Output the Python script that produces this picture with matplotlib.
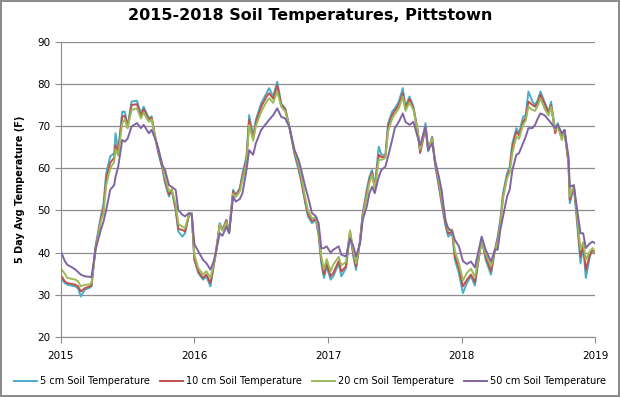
import matplotlib
matplotlib.use('Agg')
import matplotlib.pyplot as plt

# decimal year of each reading
years = [2015.00, 2015.03, 2015.05, 2015.08, 2015.11, 2015.13, 2015.15, 2015.18, 2015.21, 2015.23,
         2015.26, 2015.30, 2015.32, 2015.34, 2015.37, 2015.40, 2015.41, 2015.43, 2015.46, 2015.48,
         2015.50, 2015.53, 2015.57, 2015.60, 2015.62, 2015.66, 2015.68, 2015.71, 2015.73, 2015.76,
         2015.78, 2015.81, 2015.83, 2015.86, 2015.88, 2015.91, 2015.93, 2015.96, 2015.98, 2016.00,
         2016.03, 2016.065, 2016.09, 2016.12, 2016.14, 2016.16, 2016.19, 2016.21, 2016.24, 2016.26,
         2016.29, 2016.31, 2016.34, 2016.36, 2016.39, 2016.41, 2016.44, 2016.46, 2016.50, 2016.54,
         2016.56, 2016.59, 2016.62, 2016.65, 2016.68, 2016.71, 2016.75, 2016.78, 2016.80, 2016.83,
         2016.85, 2016.88, 2016.91, 2016.93, 2016.95, 2016.97, 2016.99, 2017.02, 2017.04, 2017.08,
         2017.10, 2017.135, 2017.165, 2017.19, 2017.21, 2017.24, 2017.26, 2017.29, 2017.31, 2017.33,
         2017.35, 2017.38, 2017.40, 2017.43, 2017.45, 2017.48, 2017.50, 2017.53, 2017.56, 2017.58,
         2017.61, 2017.64, 2017.67, 2017.69, 2017.73, 2017.75, 2017.78, 2017.80, 2017.83, 2017.85,
         2017.88, 2017.90, 2017.93, 2017.95, 2017.98, 2018.01, 2018.04, 2018.07, 2018.10, 2018.15,
         2018.18, 2018.22, 2018.25, 2018.27, 2018.29, 2018.31, 2018.34, 2018.36, 2018.38, 2018.41,
         2018.43, 2018.46, 2018.48, 2018.50, 2018.53, 2018.55, 2018.57, 2018.59, 2018.62, 2018.65,
         2018.67, 2018.70, 2018.72, 2018.75, 2018.77, 2018.80, 2018.81, 2018.84, 2018.86, 2018.89,
         2018.91, 2018.93, 2018.96, 2018.98, 2019.00]

t5 = [34.0, 32.8, 32.4, 32.2, 32.0, 31.5, 29.6, 31.2, 31.6, 32.0,
      41.5, 48.6, 51.7, 58.8, 62.8, 63.6, 68.3, 64.3, 73.4, 73.4,
      69.9, 75.8, 76.0, 73.0, 74.6, 71.8, 72.3, 66.7, 63.6, 60.0,
      56.5, 53.3, 54.9, 50.1, 45.0, 43.8, 44.6, 49.0, 49.4, 38.3,
      35.1, 33.6, 34.4, 32.0, 35.9, 39.9, 47.0, 45.4, 47.8, 44.6,
      54.9, 53.7, 55.3, 58.8, 62.8, 72.6, 67.5, 71.5, 75.4, 77.8,
      79.0, 77.0, 80.5, 75.4, 74.2, 69.9, 63.2, 59.6, 56.8, 51.7,
      48.6, 47.0, 47.8, 44.0, 37.5, 34.0, 36.7, 33.6, 34.4, 37.5,
      34.4, 36.3, 44.6, 39.1, 35.9, 43.0, 49.4, 54.9, 58.0, 59.6,
      55.6, 65.1, 63.2, 63.2, 70.7, 73.4, 74.2, 75.8, 79.0, 74.6,
      77.0, 74.6, 69.1, 64.0, 70.7, 64.0, 67.5, 61.2, 55.6, 51.7,
      46.2, 43.8, 44.6, 38.3, 35.1, 30.4, 32.8, 34.4, 32.2, 43.4,
      38.3, 34.8, 40.7, 43.8, 47.8, 54.1, 58.8, 60.4, 65.9, 69.5,
      68.3, 72.2, 72.6, 78.2, 75.8, 75.0, 76.2, 78.2, 75.8, 73.4,
      75.8, 69.1, 70.7, 67.5, 69.1, 61.2, 51.7, 55.6, 48.6, 37.5,
      41.5, 34.0, 39.1, 40.7, 39.9]

t10 = [34.7, 33.2, 32.8, 32.6, 32.4, 32.0, 30.8, 31.6, 31.9, 32.2,
       41.0, 48.0, 50.5, 57.5, 61.3, 62.5, 65.5, 63.8, 72.2, 72.5,
       69.6, 75.0, 75.2, 72.5, 74.0, 71.5, 72.0, 66.8, 64.0, 60.3,
       57.0, 53.8, 55.0, 50.5, 45.6, 45.4, 45.0, 49.0, 49.3, 38.5,
       35.5, 34.0, 34.8, 32.8, 36.0, 39.8, 46.6, 45.4, 47.6, 44.8,
       54.5, 53.5, 55.0, 58.0, 62.0, 71.5, 67.0, 70.8, 74.6, 77.0,
       77.8, 76.5, 79.7, 75.0, 74.0, 70.0, 63.6, 60.4, 57.2, 52.2,
       49.2, 47.5, 48.0, 44.6, 38.3, 34.8, 37.5, 34.4, 35.2, 38.0,
       35.5, 36.8, 45.0, 39.6, 36.7, 42.8, 49.0, 54.1, 57.2, 59.0,
       55.4, 63.2, 62.6, 62.8, 69.9, 72.6, 73.6, 75.0, 77.8, 74.2,
       76.4, 74.2, 69.0, 63.6, 69.5, 64.3, 67.2, 61.6, 56.2, 52.3,
       47.0, 44.5, 45.0, 39.1, 36.3, 32.0, 33.6, 34.8, 33.0, 43.0,
       39.1, 35.6, 40.7, 43.2, 47.0, 53.3, 58.0, 59.6, 65.1, 68.7,
       67.8, 71.0, 72.0, 75.8, 75.0, 74.6, 75.6, 77.4, 75.4, 73.0,
       75.0, 68.3, 70.3, 67.5, 69.0, 61.2, 52.5, 55.8, 49.7, 39.1,
       41.9, 35.9, 39.5, 40.7, 39.9]

t20 = [36.3, 35.0, 34.0, 33.8, 33.6, 33.2, 32.0, 32.4, 32.4, 32.8,
       40.5, 47.5, 49.3, 56.0, 60.0, 61.5, 64.5, 63.0, 70.7, 71.5,
       69.5, 73.8, 74.2, 71.8, 73.2, 71.0, 71.6, 67.0, 64.5, 60.8,
       57.8, 54.5, 55.0, 51.5, 46.8, 46.2, 45.8, 49.2, 49.3, 39.5,
       36.3, 34.8, 35.6, 34.0, 36.5, 39.6, 46.6, 45.2, 47.2, 44.8,
       54.0, 53.2, 54.5, 57.2, 61.2, 70.3, 66.5, 70.0, 73.4, 75.8,
       76.6, 75.5, 78.2, 74.6, 73.5, 70.0, 64.0, 61.0, 58.0, 53.0,
       50.0, 48.2, 48.3, 45.2, 39.1, 36.0, 38.5, 35.6, 37.2, 39.0,
       37.0, 37.8, 45.3, 40.3, 37.5, 42.5, 48.5, 53.3, 56.5, 58.5,
       55.2, 62.0, 62.0, 62.4, 68.8, 71.8, 72.8, 74.2, 77.0, 73.6,
       75.6, 73.8, 69.0, 64.5, 69.9, 64.6, 67.0, 62.0, 57.0, 53.0,
       47.8, 45.2, 45.5, 40.3, 37.5, 33.4, 35.2, 36.2, 34.2, 42.6,
       39.8, 36.8, 40.6, 42.5, 46.5, 52.8, 57.6, 59.0, 63.6, 67.5,
       67.0, 70.3, 71.3, 74.6, 73.8, 73.6, 74.8, 76.6, 74.2, 72.5,
       74.6, 69.1, 70.0, 66.7, 68.8, 61.6, 53.3, 56.0, 50.1, 40.7,
       42.5, 38.3, 40.3, 41.1, 40.1]

t50 = [40.4, 38.0, 37.1, 36.6, 36.0, 35.4, 34.8, 34.4, 34.3, 34.2,
       40.7, 45.4, 47.4, 50.1, 54.9, 56.0, 58.0, 60.4, 66.7, 66.3,
       67.0, 69.9, 70.7, 69.5, 70.3, 68.3, 69.1, 66.7, 64.7, 60.8,
       59.6, 56.0, 55.6, 54.9, 50.1, 49.0, 48.6, 49.4, 49.0, 42.0,
       40.3, 38.3, 37.5, 36.0, 37.5, 39.9, 44.6, 44.0, 46.2, 44.6,
       53.3, 52.1, 52.7, 54.1, 59.6, 64.3, 63.2, 65.9, 69.1, 70.7,
       71.5, 72.6, 74.2, 72.2, 71.8, 69.9, 64.3, 62.0, 59.6, 55.6,
       53.3, 49.4, 48.6, 47.0, 41.0, 41.1, 41.5, 40.0, 40.7, 41.5,
       39.5, 39.1, 43.4, 41.5, 39.1, 42.2, 47.8, 50.9, 54.1, 55.6,
       54.1, 58.0, 59.6, 60.4, 62.8, 66.7, 69.5, 71.0, 73.0, 71.0,
       70.3, 71.0, 67.5, 65.5, 69.9, 64.3, 65.9, 62.0, 58.0, 54.9,
       47.4, 45.8, 45.0, 43.0, 41.5, 38.0, 37.3, 37.9, 36.5, 43.8,
       40.7, 37.9, 40.7, 40.7, 45.4, 48.6, 53.3, 54.9, 59.6, 63.2,
       63.6, 65.9, 67.5, 69.5, 69.5, 70.3, 71.8, 73.0, 72.6, 71.5,
       70.7, 69.5, 70.3, 68.3, 69.1, 62.8, 55.6, 56.0, 51.3, 44.6,
       44.6, 41.1, 42.2, 42.6, 42.2]

labels = ['5 cm Soil Temperature', '10 cm Soil Temperature',
          '20 cm Soil Temperature', '50 cm Soil Temperature']
colors = ['#4BACC6', '#C0504D', '#9BBB59', '#8064A2']

fig = plt.figure(figsize=(6.2, 3.97), dpi=100)
fig.patch.set_edgecolor('#8c8c8c')
fig.patch.set_linewidth(1.5)
ax = fig.add_axes([0.098, 0.151, 0.862, 0.744])

for vals, lab, col in zip([t5, t10, t20, t50], labels, colors):
    ax.plot(years, vals, color=col, lw=1.4, label=lab)

ax.set_xlim(2015, 2019)
ax.set_ylim(20, 90)
ax.set_yticks(range(20, 91, 10))
ax.set_xticks([2015, 2016, 2017, 2018, 2019])
ax.set_xticklabels(['2015', '2016', '2017', '2018', '2019'])
ax.yaxis.grid(True, color='#8c8c8c', lw=0.9)
ax.set_axisbelow(True)
for s in ['top', 'right']:
    ax.spines[s].set_visible(False)
for s in ['left', 'bottom']:
    ax.spines[s].set_color('#8c8c8c')
ax.tick_params(colors='#8c8c8c', labelcolor='black', labelsize=7.5, length=4)
ax.tick_params(axis='x', pad=6)

ax.set_ylabel('5 Day Avg Temperature (F)', fontsize=7, fontweight='bold', labelpad=9)
fig.suptitle('2015-2018 Soil Temperatures, Pittstown', fontsize=11.5, fontweight='bold', y=0.98)

fig.legend(loc='lower center', ncol=4, frameon=False, fontsize=7,
           bbox_to_anchor=(0.5, 0.005), handlelength=2.4, columnspacing=1.0, handletextpad=0.3)

fig.savefig('out.png', dpi=100)
